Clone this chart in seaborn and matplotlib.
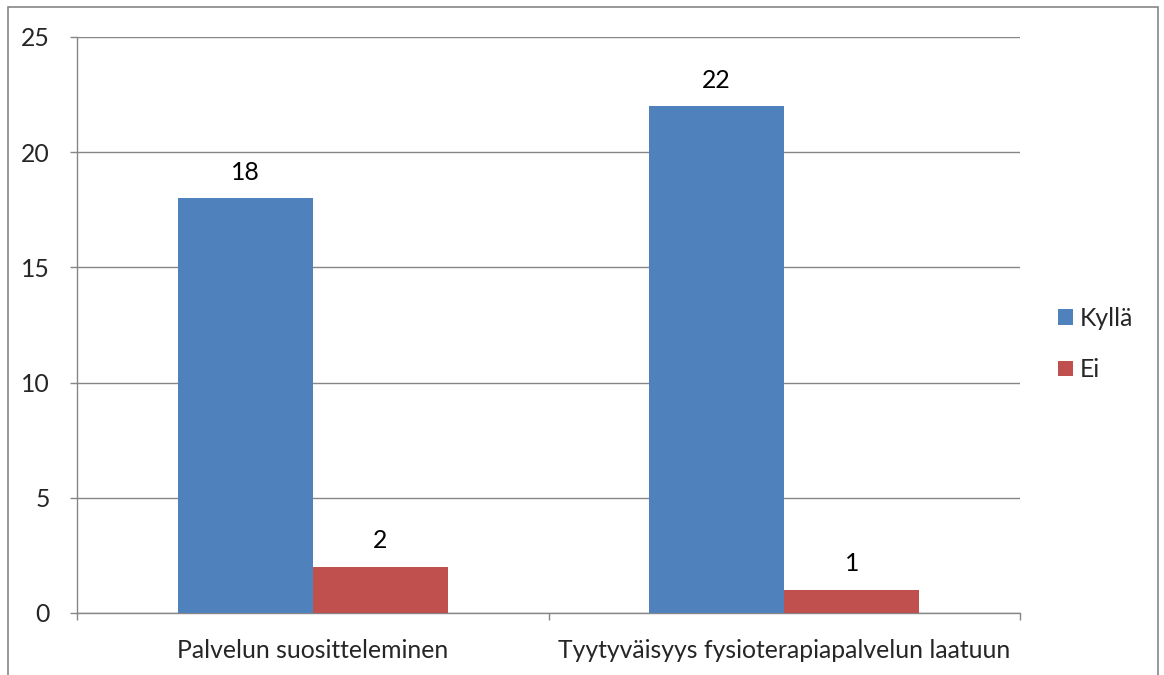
import matplotlib
matplotlib.use("Agg")
import matplotlib.pyplot as plt
import seaborn as sns
import pandas as pd
from matplotlib.patches import Rectangle

categories = ["Palvelun suositteleminen", "Tyytyväisyys fysioterapiapalvelun laatuun"]
series_names = ["Kyllä", "Ei"]
kylla = [18, 22]
ei = [2, 1]
yticks = [0, 5, 10, 15, 20, 25]

df = pd.DataFrame({
    "category": categories * 2,
    "series": [series_names[0]] * 2 + [series_names[1]] * 2,
    "value": kylla + ei,
})

sns.set_style("white")
plt.rcParams['font.family'] = ['Lato', 'DejaVu Sans']
FS = 17.8

W, H = 1164, 675
fig = plt.figure(figsize=(W / 100, H / 100), dpi=100)
ax = fig.add_axes([77 / W, 1 - 613 / H, (1020 - 77) / W, (613 - 37) / H])

grid_c = "#868686"
sns.barplot(data=df, x="category", y="value", hue="series", order=categories,
            hue_order=series_names, palette=["#4F81BD", "#C0504D"],
            width=0.573, saturation=1, ax=ax, zorder=3, linewidth=0)

for cont in ax.containers:
    ax.bar_label(cont, padding=10.5, fontsize=FS, color="black")

ax.set_xlim(-0.5, 1.5)
ax.set_ylim(0, 25)
ax.set_yticks(yticks)
ax.set_yticklabels([str(t) for t in yticks], fontsize=FS)
ax.yaxis.grid(True, color=grid_c, linewidth=1, zorder=0)
ax.set_axisbelow(True)
ax.tick_params(axis="y", length=5, width=1, color=grid_c, pad=14.5, left=True)
ax.set_xticks([0, 1])
ax.set_xticklabels(categories, fontsize=FS)
ax.tick_params(axis="x", which="major", length=0, pad=18.5)
ax.set_xticks([-0.5, 0.5, 1.5], minor=True)
ax.tick_params(axis="x", which="minor", length=5, width=1, color=grid_c, bottom=True)
ax.set_xlabel("")
ax.set_ylabel("")
for s in ["top", "right"]:
    ax.spines[s].set_visible(False)
for s in ["left", "bottom"]:
    ax.spines[s].set_color(grid_c)
    ax.spines[s].set_linewidth(1)

h, l = ax.get_legend_handles_labels()
ax.legend(h, l, loc="center left", bbox_to_anchor=(1058 / W, 1 - 344 / H),
          bbox_transform=fig.transFigure, frameon=False, fontsize=FS,
          handlelength=0.6, handleheight=0.6, handletextpad=0.3,
          labelspacing=1.15, borderpad=0, borderaxespad=0)

fig.patches.append(Rectangle((8 / W, -0.05), (1158 - 8) / W, 1.05 - 7 / H,
                             transform=fig.transFigure, fill=False,
                             edgecolor=grid_c, linewidth=1.2))

fig.savefig("out.png", dpi=100)
